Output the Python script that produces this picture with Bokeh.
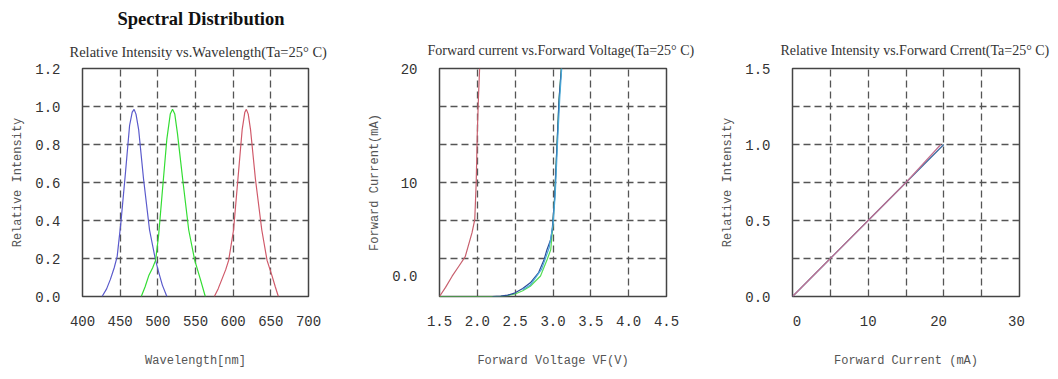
from bokeh.plotting import figure
from bokeh.models import Range1d, FixedTicker, Title
from bokeh.layouts import row
from bokeh.embed import file_html
from bokeh.resources import INLINE

# ---------------- data ----------------
# Panel 1: Relative Intensity vs Wavelength
blue_wl = [426, 432, 437, 442, 446, 451, 457, 462.5, 466, 468.5, 471, 474.5, 481, 489, 497, 501, 506, 512]
blue_ri = [0, 0.04, 0.09, 0.15, 0.21, 0.39, 0.65, 0.90, 0.97, 0.985, 0.96, 0.88, 0.62, 0.35, 0.19, 0.13, 0.06, 0]
green_wl = [478, 483, 488, 493, 497, 501, 505.5, 512, 516.5, 519.5, 522.5, 526, 533.5, 541, 549, 556.5, 563]
green_ri = [0, 0.05, 0.11, 0.15, 0.19, 0.32, 0.53, 0.83, 0.96, 0.985, 0.96, 0.86, 0.60, 0.35, 0.19, 0.09, 0]
red_wl = [575, 580, 585, 590, 594, 600.5, 607, 612, 615.5, 617.5, 620, 623, 629.5, 638, 645, 651.5, 656, 660]
red_ri = [0, 0.04, 0.09, 0.14, 0.19, 0.35, 0.65, 0.88, 0.97, 0.985, 0.96, 0.88, 0.62, 0.35, 0.19, 0.11, 0.05, 0]
wl_ticks = [400, 450, 500, 550, 600, 650, 700]
wl_labels = ["400", "450", "500", "550", "600", "650", "700"]
ri_ticks = [0.0, 0.2, 0.4, 0.6, 0.8, 1.0, 1.2]
ri_labels = ["0.0", "0.2", "0.4", "0.6", "0.8", "1.0", "1.2"]

# Panel 2: Forward current vs Forward voltage
red_vf = [1.5, 1.58, 1.667, 1.76, 1.84, 1.93, 1.966, 1.985, 1.998, 2.015, 2.03]
red_if = [0, 0.8, 1.78, 2.7, 3.5, 5.6, 6.75, 10.0, 14.0, 17.5, 20]
green_vf = [1.5, 2.2, 2.31, 2.4, 2.5, 2.6, 2.7, 2.835, 2.92, 2.97, 2.99, 3.02, 3.05, 3.08, 3.11]
green_if = [0, 0, 0.02, 0.08, 0.22, 0.5, 0.9, 1.8, 3.2, 4.1, 5.6, 8.5, 12.9, 17.3, 20]
blue_vf = [2.2, 2.31, 2.4, 2.5, 2.6, 2.7, 2.81, 2.88, 2.92, 2.97, 2.99, 3.02, 3.05, 3.08, 3.11]
blue_if = [0, 0.03, 0.12, 0.32, 0.7, 1.2, 2.1, 3.2, 4.1, 5.0, 5.9, 8.5, 12.9, 17.3, 20]
cyan_vf = [2.6, 2.7, 2.85, 2.95, 3.0, 3.03, 3.06, 3.09, 3.115]
cyan_if = [0.6, 1.0, 2.4, 4.3, 6.3, 9.0, 13.5, 17.5, 20]
vf_ticks = [1.5, 2.0, 2.5, 3.0, 3.5, 4.0, 4.5]
vf_labels = ["1.5", "2.0", "2.5", "3.0", "3.5", "4.0", "4.5"]
if_ticks = [1.8, 10, 20]
if_labels = ["0.0", "10", "20"]
if_grid = [0, 20 / 6, 40 / 6, 10, 80 / 6, 100 / 6, 20]

# Panel 3: Relative Intensity vs Forward current
red_fc = [0, 5, 10, 15, 19.6]
red_fc_ri = [0, 0.25, 0.5, 0.75, 1.0]
blue_fc = [0, 5, 10, 15, 20]
blue_fc_ri = [0, 0.25, 0.5, 0.75, 1.0]
fc_ticks = [0.6, 10, 19.3, 29.6]
fc_labels = ["0", "10", "20", "30"]
fc_grid = [0, 5, 10, 15, 20, 25, 30]
ri3_ticks = [0.0, 0.5, 1.0, 1.5]
ri3_labels = ["0.0", "0.5", "1.0", "1.5"]
ri3_grid = [0, 0.25, 0.5, 0.75, 1.0, 1.25, 1.5]

MONO = "Liberation Mono"
SERIF = "Liberation Serif"


def make_fig(fw, left, right, xr, yr,
             xticks, xlabels, xgrid, yticks, ylabels, ygrid, xlab, ylab):
    p = figure(frame_width=fw, frame_height=228, x_range=Range1d(*xr), y_range=Range1d(*yr),
               output_backend="svg", toolbar_location=None,
               min_border_left=left, min_border_right=right,
               min_border_top=68, min_border_bottom=67)
    p.background_fill_color = "white"
    p.border_fill_color = "white"
    p.outline_line_color = "#444444"
    p.outline_line_width = 1.5

    p.xaxis.ticker = FixedTicker(ticks=xticks)
    p.xaxis.major_label_overrides = dict(zip(xticks, xlabels))
    p.yaxis.ticker = FixedTicker(ticks=yticks)
    p.yaxis.major_label_overrides = dict(zip(yticks, ylabels))
    p.xgrid.ticker = FixedTicker(ticks=xgrid)
    p.ygrid.ticker = FixedTicker(ticks=ygrid)
    for g in (p.xgrid, p.ygrid):
        g.grid_line_color = "#555555"
        g.grid_line_width = 1.3
        g.grid_line_dash = "7 4"
        g.grid_line_alpha = 1.0
    for ax in (p.xaxis, p.yaxis):
        ax.axis_line_color = None
        ax.major_tick_line_color = None
        ax.minor_tick_line_color = None
        ax.major_tick_out = 0
        ax.major_tick_in = 0
        ax.minor_tick_out = 0
        ax.minor_tick_in = 0
        ax.major_label_text_font = MONO
        ax.major_label_text_font_size = "14px"
        ax.major_label_text_color = "#333333"
        ax.axis_label_text_font = MONO
        ax.axis_label_text_font_size = "12px"
        ax.axis_label_text_font_style = "normal"
        ax.axis_label_text_color = "#555555"
    p.xaxis.major_label_standoff = 19
    p.xaxis.axis_label_standoff = 25
    p.yaxis.major_label_standoff = 22
    p.yaxis.axis_label_standoff = 7
    p.xaxis.axis_label = xlab
    p.yaxis.axis_label = ylab
    return p


def style_title(t, text, size, bold, offset, standoff, color="#333333"):
    t.text = text
    t.text_font = SERIF
    t.text_font_size = size
    t.text_font_style = "bold" if bold else "normal"
    t.text_color = color
    t.align = "left"
    t.offset = offset
    t.standoff = standoff


# Panel 1
f1 = make_fig(226, 82, 52, (400, 700), (0, 1.2),
              wl_ticks, wl_labels, wl_ticks, ri_ticks, ri_labels, ri_ticks,
              "Wavelength[nm]", "Relative Intensity")
style_title(f1.title, "Spectral Distribution", "18.5px", True, 35, 8, "#111111")
sub1 = Title()
style_title(sub1, "Relative Intensity vs.Wavelength(Ta=25\u00b0 C)", "14.5px", False, -13, 18)
f1.add_layout(sub1, "above")
f1.line(blue_wl, blue_ri, line_color="#5a5acc", line_width=1.2)
f1.line(green_wl, green_ri, line_color="#33dd33", line_width=1.2)
f1.line(red_wl, red_ri, line_color="#d05a6a", line_width=1.2)

# Panel 2
f2 = make_fig(227, 79, 39, (1.5, 4.5), (0, 20),
              vf_ticks, vf_labels, vf_ticks, if_ticks, if_labels, if_grid,
              "Forward Voltage VF(V)", "Forward Current(mA)")
style_title(f2.title, "Forward current vs.Forward Voltage(Ta=25\u00b0 C)", "14px", False, -12, 22)
f2.line(red_vf, red_if, line_color="#c8606e", line_width=1.2)
f2.line(green_vf, green_if, line_color="#55dd55", line_width=1.2)
f2.line(blue_vf, blue_if, line_color="#2c4a9a", line_width=1.2)
f2.line(cyan_vf, cyan_if, line_color="#4aa8d8", line_width=1.2)

# Panel 3
f3 = make_fig(227, 87, 31, (0, 30), (0, 1.5),
              fc_ticks, fc_labels, fc_grid, ri3_ticks, ri3_labels, ri3_grid,
              "Forward Current (mA)", "Relative Intensity")
style_title(f3.title, "Relative Intensity vs.Forward Crrent(Ta=25\u00b0 C)", "14px", False, -12, 22)
f3.line(blue_fc, blue_fc_ri, line_color="#3a6aa0", line_width=1.2)
f3.line(red_fc, red_fc_ri, line_color="#c07090", line_width=1.2)

layout = row(f1, f2, f3)
open("out.html", "w").write(file_html(layout, INLINE))
